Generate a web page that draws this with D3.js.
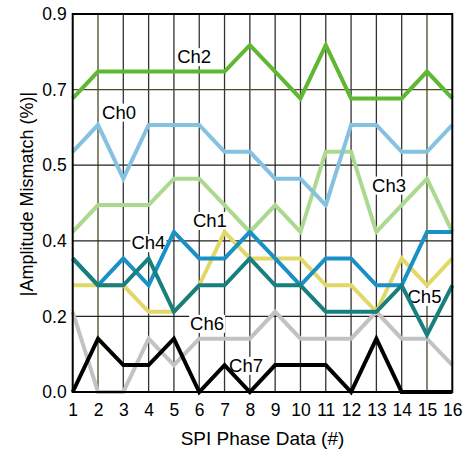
<!DOCTYPE html>
<html>
<head>
<meta charset="utf-8">
<script src="https://cdn.jsdelivr.net/npm/d3@7/dist/d3.min.js"></script>
<style>
  body { margin: 0; background: #fff; }
  text { font-family: "Liberation Sans", Arial, sans-serif; fill: #000; }
</style>
</head>
<body>
<div id="chart"></div>
<script>
const WIDTH = 469;
const HEIGHT = 457;

// x categories and tick labels
const phases = [1, 2, 3, 4, 5, 6, 7, 8, 9, 10, 11, 12, 13, 14, 15, 16];
const yTicks = [0, 0.18, 0.36, 0.54, 0.72, 0.9];
const yTickLabels = ["0.0", "0.2", "0.4", "0.5", "0.7", "0.9"];

// series values
const ch0 = [0.572, 0.636, 0.508, 0.636, 0.636, 0.636, 0.572, 0.572, 0.508, 0.508, 0.445, 0.636, 0.636, 0.572, 0.572, 0.636];
const ch1 = [0.254, 0.254, 0.254, 0.191, 0.191, 0.254, 0.381, 0.318, 0.318, 0.318, 0.254, 0.254, 0.191, 0.318, 0.254, 0.318];
const ch2 = [0.699, 0.763, 0.763, 0.763, 0.763, 0.763, 0.763, 0.826, 0.763, 0.699, 0.826, 0.699, 0.699, 0.699, 0.763, 0.699];
const ch3 = [0.381, 0.445, 0.445, 0.445, 0.508, 0.508, 0.445, 0.381, 0.445, 0.381, 0.572, 0.572, 0.381, 0.445, 0.508, 0.381];
const ch4 = [0.318, 0.254, 0.318, 0.254, 0.381, 0.318, 0.318, 0.381, 0.318, 0.254, 0.318, 0.318, 0.254, 0.254, 0.381, 0.381];
const ch5 = [0.318, 0.254, 0.254, 0.318, 0.191, 0.254, 0.254, 0.318, 0.254, 0.254, 0.191, 0.191, 0.191, 0.254, 0.136, 0.254];
const ch6 = [0.191, 0, 0, 0.127, 0.064, 0.127, 0.127, 0.127, 0.191, 0.127, 0.127, 0.127, 0.191, 0.127, 0.127, 0.064];
const ch7 = [0, 0.127, 0.064, 0.064, 0.127, 0, 0.064, 0, 0.064, 0.064, 0.064, 0, 0.127, 0, 0, 0];

// drawing order: first ones end up underneath
const series = [
    {name: "Ch6", values: ch6, color: "#c2c2c2"},
    {name: "Ch7", values: ch7, color: "#000000"},
    {name: "Ch3", values: ch3, color: "#abd98d"},
    {name: "Ch0", values: ch0, color: "#85c1e0"},
    {name: "Ch2", values: ch2, color: "#5fb733"},
    {name: "Ch1", values: ch1, color: "#e2d868"},
    {name: "Ch4", values: ch4, color: "#1a91c6"},
    {name: "Ch5", values: ch5, color: "#177f7e"}
];

// where the channel names sit (x in phase units, y in data units)
const labelNames = ["Ch2", "Ch0", "Ch3", "Ch1", "Ch4", "Ch5", "Ch6", "Ch7"];
const labelX = [5.8, 2.83, 13.5, 6.42, 3.99, 14.9, 6.31, 7.85];
const labelY = [0.783, 0.651, 0.477, 0.393, 0.34, 0.212, 0.148, 0.048];

let svg = d3.select("#chart")
    .append("svg")
    .attr("width", WIDTH)
    .attr("height", HEIGHT);

let x = d3.scaleLinear().domain([1, 16]).range([72.7, 452.3]);
let y = d3.scaleLinear().domain([0, 0.9]).range([392, 14]);

const olive = "#4b4826";

// grid
svg.append("g")
    .selectAll("line")
    .data(phases.slice(1, -1))
    .enter()
    .append("line")
    .attr("x1", d => x(d)).attr("x2", d => x(d))
    .attr("y1", y(0)).attr("y2", y(0.9))
    .attr("stroke", d => (d == 2 || d == 15) ? olive : "#333")
    .attr("stroke-width", 1.3);

svg.append("g")
    .selectAll("line")
    .data(yTicks.slice(1, -1))
    .enter()
    .append("line")
    .attr("x1", x(1)).attr("x2", x(16))
    .attr("y1", d => y(d)).attr("y2", d => y(d))
    .attr("stroke", d => d == 0.72 ? olive : "#222")
    .attr("stroke-width", 1.3);

// channel labels with white boxes behind them
let labels = svg.append("g");
labelNames.forEach(function(name, i) {
    let t = labels.append("text")
        .attr("x", x(labelX[i]))
        .attr("y", y(labelY[i]))
        .attr("text-anchor", "middle")
        .style("font-size", "18.5px")
        .text(name);
    let b = t.node().getBBox();
    labels.insert("rect", "text")
        .attr("x", b.x - 1)
        .attr("y", b.y + 2)
        .attr("width", b.width + 2)
        .attr("height", b.height - 3)
        .attr("fill", "#fff");
});

// lines
let line = d3.line()
    .x((d, i) => x(phases[i]))
    .y(d => y(d));

svg.append("g")
    .selectAll("path")
    .data(series)
    .enter()
    .append("path")
    .attr("d", d => line(d.values))
    .attr("fill", "none")
    .attr("stroke", d => d.color)
    .attr("stroke-width", 4)
    .attr("stroke-linejoin", "miter");

// frame
svg.append("rect")
    .attr("x", x(1))
    .attr("y", y(0.9))
    .attr("width", x(16) - x(1))
    .attr("height", y(0) - y(0.9))
    .attr("fill", "none")
    .attr("stroke", "#000")
    .attr("stroke-width", 2);

// axes
let xAxis = svg.append("g")
    .attr("transform", `translate(0,${y(0)})`)
    .call(d3.axisBottom(x).tickValues(phases).tickFormat(d3.format("d")).tickSize(0).tickPadding(12));
xAxis.select(".domain").remove();
xAxis.selectAll("text")
    .style("font-size", "17.5px")
    .style("font-family", "'Liberation Sans', Arial, sans-serif")
    .attr("fill", "#000");

let yAxis = svg.append("g")
    .attr("transform", `translate(${x(1)},0)`)
    .call(d3.axisLeft(y).tickValues(yTicks).tickFormat((d, i) => yTickLabels[i]).tickSize(0).tickPadding(6));
yAxis.select(".domain").remove();
yAxis.selectAll("text")
    .style("font-size", "17.5px")
    .style("font-family", "'Liberation Sans', Arial, sans-serif")
    .attr("fill", "#000");

// titles
svg.append("text")
    .attr("x", (x(1) + x(16)) / 2)
    .attr("y", 445)
    .attr("text-anchor", "middle")
    .style("font-size", "19px")
    .text("SPI Phase Data (#)");

svg.append("text")
    .attr("transform", `translate(33,${194}) rotate(-90)`)
    .attr("text-anchor", "middle")
    .style("font-size", "18px")
    .text("|Amplitude Mismatch (%)|");
</script>
</body>
</html>
